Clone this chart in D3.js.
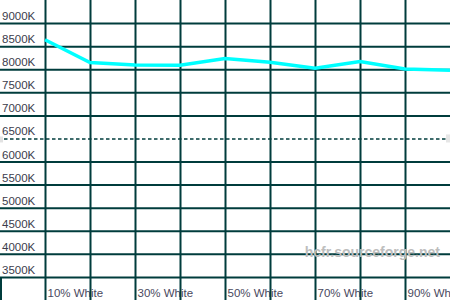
<!DOCTYPE html>
<html>
<head>
<meta charset="utf-8">
<script src="https://cdn.jsdelivr.net/npm/d3@7"></script>
<style>
  body { margin: 0; background: #fff; }
  svg { display: block; font-family: "Liberation Sans", Arial, sans-serif; }
</style>
</head>
<body>
<script>
// colour temperature per grey level (percent white)
const levels = [10, 20, 30, 40, 50, 60, 70, 80, 90, 100];
const tempK = [8640, 8146, 8092, 8085, 8232, 8150, 8022, 8168, 8005, 7977];

const yTicks = [3500, 4000, 4500, 5000, 5500, 6000, 6500, 7000, 7500, 8000, 8500, 9000];
const xTicks = [10, 20, 30, 40, 50, 60, 70, 80, 90];
const refTemp = 6500;

const width = 450;
const height = 300;
const gridColor = '#003c3c';

const svg = d3.select('body').append('svg')
  .attr('width', width)
  .attr('height', height);

svg.append('rect').attr('width', width).attr('height', height).attr('fill', '#fff');

const x = d3.scaleLinear().domain([0, 100]).range([0, width]);
const y = d3.scaleLinear().domain([3000, 9500]).range([height, 0]);

// horizontal grid + labels
const yAxis = d3.axisRight(y)
  .tickValues(yTicks)
  .tickSize(width)
  .tickFormat(d => d + 'K');

const gy = svg.append('g').call(yAxis);
gy.select('.domain').remove();
gy.selectAll('.tick line')
  .attr('stroke', gridColor)
  .attr('stroke-width', d => d === refTemp ? 1.5 : 2)
  .attr('stroke-dasharray', d => d === refTemp ? '3.5,2.5' : null)
  .attr('x1', d => d === refTemp ? 4 : 0)
  .attr('x2', d => d === refTemp ? 446 : width);
gy.selectAll('.tick text')
  .attr('x', 2)
  .attr('dy', -3.5)
  .attr('fill', '#3c3c4c')
  .attr('font-size', 11.5)
  .attr('text-anchor', 'start');

// small markers at the ends of the reference line
svg.append('rect').attr('x', 0).attr('y', y(refTemp) - 2).attr('width', 3).attr('height', 6).attr('fill', '#e2e2e2');
svg.append('rect').attr('x', 446).attr('y', y(refTemp) - 4).attr('width', 4).attr('height', 8).attr('fill', '#e6e6e6');

// vertical grid + labels
const xAxis = d3.axisBottom(x)
  .tickValues(xTicks)
  .tickSize(height)
  .tickFormat(d => d % 20 === 10 ? d + '% White' : '');

const gx = svg.append('g').call(xAxis);
gx.select('.domain').remove();
gx.selectAll('.tick line')
  .attr('stroke', gridColor)
  .attr('stroke-width', 2);
gx.selectAll('.tick text')
  .attr('x', 2)
  .attr('y', 296.5)
  .attr('dy', null)
  .attr('fill', '#4a4a60')
  .attr('font-size', 11.5)
  .attr('text-anchor', 'start');

// short tick at the left edge under the last grid line
svg.append('line')
  .attr('x1', x(0) + 1).attr('x2', x(0) + 1)
  .attr('y1', y(3500)).attr('y2', height)
  .attr('stroke', gridColor)
  .attr('stroke-width', 2);

// watermark
svg.append('text')
  .attr('x', 440)
  .attr('y', 257)
  .attr('text-anchor', 'end')
  .attr('font-size', 14)
  .attr('font-weight', 'bold')
  .attr('fill', '#bdbdbd')
  .text('hcfr.sourceforge.net');

// colour temperature curve
const data = levels.map((l, i) => ({ level: l, temp: tempK[i] }));
const line = d3.line()
  .x(d => x(d.level))
  .y(d => y(d.temp));

svg.append('path')
  .datum(data)
  .attr('fill', 'none')
  .attr('stroke', '#00ffff')
  .attr('stroke-width', 3.5)
  .attr('d', line);
</script>
</body>
</html>
